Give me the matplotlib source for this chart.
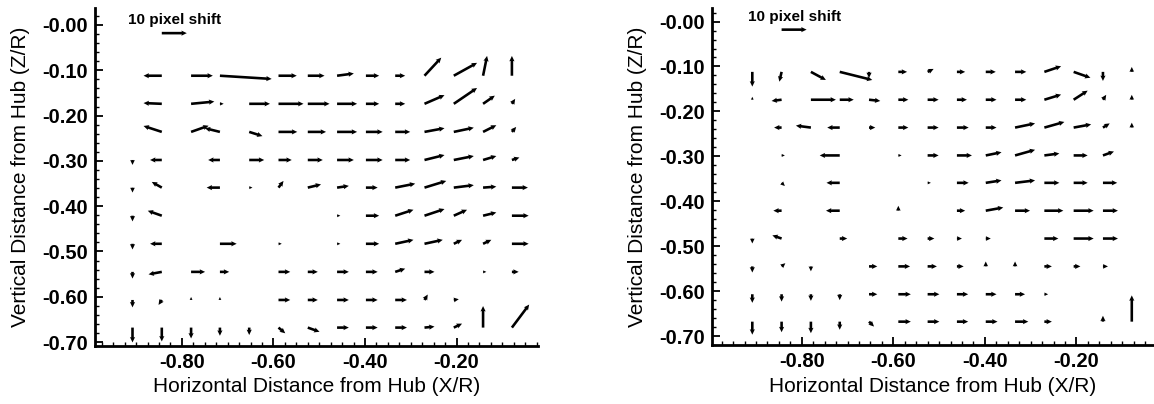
import numpy as np
import matplotlib
matplotlib.use('Agg')
import matplotlib.pyplot as plt
from matplotlib.ticker import MultipleLocator, FuncFormatter

plt.rcParams['font.family'] = ['Liberation Sans', 'DejaVu Sans']
plt.rcParams['axes.unicode_minus'] = False

# grid of measuring points (X/R columns, Z/R rows)
x_pos = [-0.908, -0.844, -0.780, -0.717, -0.653, -0.589, -0.525,
         -0.461, -0.398, -0.334, -0.270, -0.206, -0.142, -0.079]
z_pos = [-0.112, -0.174, -0.236, -0.298, -0.359,
         -0.421, -0.483, -0.545, -0.607, -0.668]
nan = np.nan

# pixel shifts, left panel (one row per Z, one value per X)
left_u = [
    [nan, -7.3, 8.7, 20.7, nan, 7.3, 6.7, 6.7, 5.3, 4.0, 6.7, 9.3, 1.6, 0],
    [nan, -7.3, 9.3, 1.5, 8.3, 10, 8.7, 8, 5.3, 4, 8, 9.3, 4.7, 1.3],
    [nan, -7.3, 7, -6, 5.3, 7.5, 7.3, 8, 6.7, 6, 8, 8, 5.3, 1.7],
    [0, -4.7, nan, -4.7, 6, 5.3, 6, 6.7, 6.7, 6, 8, 8, 5.3, 3],
    [0, -4, nan, -5.3, 1.3, 2, 5.3, 4.7, 4.7, 8, 8.7, 8, 5.3, 6.4],
    [0, -5.6, nan, nan, nan, nan, nan, 1.3, 5.3, 7.3, 8, 5.3, 5.3, 6.7],
    [0, -4.7, nan, 6.7, nan, 1.3, nan, 1.3, 5.3, 7.3, 7.3, 3.3, 3.3, 6.7],
    [0, -5.3, 5.6, 3.7, nan, 4.7, 4, 4.7, 4.7, 4, 4, nan, 1.3, 2.7],
    [0, -1.3, 0, 0, nan, 4.7, 4, 4.7, 4.7, 4.7, 1.3, 2, nan, nan],
    [0, 0, 0, 0, 0, 2.7, 4.7, 4.7, 4.7, 4.7, 4, 3.3, 0, 6.9],
]
left_v = [
    [nan, 0, 0, -1.3, nan, 0, 0, 0.9, 0, 0, 7.3, 5.2, 8.0, 8.0],
    [nan, 0.3, 0.9, 0, 0, 0, 0, 0, 0, 0, 3.5, 6.4, 3.3, 2],
    [nan, 2.4, 2.5, 1.5, -1.7, 0, 0, 0, 0, 0, 1.5, 1.7, 2.7, 2],
    [-2, 0, nan, 0, 0, 0, 0, 0, 0, 0, 2, 1.6, 1.6, 1],
    [-2, 2.3, nan, 0, 0, 2.7, 1.3, 0.7, 0, 1.6, 2.7, 1, 0.4, 0],
    [-2.3, 2, nan, nan, nan, nan, nan, 0, 0, 2.4, 2.7, 2.4, 1.3, 0],
    [-2.3, 0, nan, 0, nan, 0, nan, 0, 0, 1.6, 1.6, 1.6, 1.6, 0],
    [-2.7, -1, 0, 0, nan, 0, 0, 0, 0, 1.3, 0, nan, 0, 0],
    [-3, -2, 1.2, 1.2, nan, 0, 0, 0, 0, 0, 2.2, 0.3, nan, nan],
    [-6, -5.6, -4.4, -3.3, -3, -2.3, -1.7, 0, 0, 0, 0.4, 1.6, 8.7, 9.3],
]

# pixel shifts, right panel
right_u = [
    [0, -0.9, 6, 13, 0, 3.5, 2.4, 3.3, 4, 4.5, 6.7, 6.7, 0, 0],
    [0, -4, 10, 5.6, 4.5, 4, 4.4, 4, 4.3, 4.5, 6.7, 5.6, 1.3, 0],
    [nan, -3, -6, -5, 2.5, 4, 4.4, 4.7, 4.3, 8, 8, 7, 2.7, 0],
    [nan, 1.3, nan, -8, nan, 1.3, 4.4, 6, 6.3, 8, 6, 5.6, 4.4, nan],
    [nan, 1.3, nan, -5.3, nan, nan, 1.3, 4.7, 6.3, 8, 6, 5.6, 5.7, nan],
    [nan, -3.3, nan, -5.5, nan, 0, nan, 3.3, 7, 6, 7.6, 8, 6, nan],
    [0, -3.7, nan, 3, nan, 3.7, 2.7, 2, 2, nan, 5.6, 8, 6, nan],
    [0, 1.5, 0, nan, 3.3, 4.7, 3.7, 2.7, 0, 0, 3, 2.7, 2, nan],
    [0, 0, 0, 0, 3.3, 5, 4.7, 4.5, 4.3, 4, 1.5, nan, nan, nan],
    [0, 0, 0, 0, 2, 5, 4.7, 4.5, 4.7, 5.3, 3, nan, 0, 0],
]
right_v = [
    [-6, -4, -3.3, -3.3, -2.5, 0, 1.2, 0, 0, 0, 2.3, -2.4, -3.7, 2],
    [1.2, -0.5, 0, 0, -0.5, 0, 0, 0, 0, 0, 2.1, 3.7, 2, 2],
    [nan, 0, 0.8, 0, 0, 0, 0, 0, 0, 1.7, 2.3, 1.3, 1.7, 2],
    [nan, 0, nan, 0, nan, 0, 0, 0, 1.3, 2.3, 0.8, 0, 1.6, nan],
    [nan, -1.3, nan, 0, nan, nan, 0, 0, 1, 1, 0, 0, 0, nan],
    [nan, 0, nan, 0, nan, 2, nan, 0, 1.3, 0, 0, 0, 0, nan],
    [-2, 1.3, nan, 0, nan, 0, 0, 0, 0, nan, 0, 0, 0, nan],
    [-2.5, 1.3, -2, nan, 0, 0, 0, 0, 2, 2, 0, 0, 0, nan],
    [-3.5, -3, -2.7, -2.4, 0, 0, 0, 0, 0, 0, 0, nan, nan, nan],
    [-5.3, -4.3, -4.7, -3.3, -2, 0, 0, 0, 0, 0, 0, nan, 2.4, 10.7],
]

ref_shift = 10      # reference arrow, pixels
scale = 183.0       # pixel shift per X/R unit

fig = plt.figure(figsize=(11.54, 4.04), dpi=100)
ax1 = fig.add_axes([0.0823, 0.1436, 0.3839, 0.8366])
ax2 = fig.add_axes([0.617, 0.146, 0.382, 0.834])

X, Z = np.meshgrid(x_pos, z_pos)


def field(ax, u, v, xlim, ylim):
    q = ax.quiver(X, Z, np.array(u), np.array(v), pivot='tail',
                  angles='xy', scale_units='xy', scale=scale,
                  units='dots', width=2.6, headwidth=2.0, headlength=2.1,
                  headaxislength=1.9, minlength=0.8, color='black')
    ax.quiverkey(q, x_pos[1] + ref_shift / scale / 2, -0.018, ref_shift,
                 '10 pixel shift', coordinates='data', labelpos='N',
                 labelsep=0.06,
                 fontproperties={'size': 11, 'weight': 'bold'})
    ax.set_xlim(xlim)
    ax.set_ylim(ylim)
    ax.xaxis.set_major_locator(MultipleLocator(0.2))
    ax.xaxis.set_minor_locator(MultipleLocator(0.025))
    ax.yaxis.set_major_locator(MultipleLocator(0.1))
    ax.yaxis.set_minor_locator(MultipleLocator(0.02))
    ax.xaxis.set_major_formatter(FuncFormatter(lambda t, p: '%.2f' % t))
    ax.yaxis.set_major_formatter(FuncFormatter(lambda t, p: '-%.2f' % abs(t)))
    ax.tick_params(which='major', direction='in', length=6, width=1.3,
                   labelsize=14.5, pad=5)
    ax.tick_params(which='minor', direction='in', length=3, width=1)
    for lab in ax.get_xticklabels() + ax.get_yticklabels():
        lab.set_fontweight('bold')
    for s in ['top', 'right']:
        ax.spines[s].set_visible(False)
    for s in ['left', 'bottom']:
        ax.spines[s].set_linewidth(2)
    ax.set_xlabel('Horizontal Distance from Hub (X/R)', fontsize=15, labelpad=4)
    ax.set_ylabel('Vertical Distance from Hub (Z/R)', fontsize=15, labelpad=9)


field(ax1, left_u, left_v, (-0.990, -0.022), (-0.7086, 0.0375))
field(ax2, right_u, right_v, (-0.996, -0.033), (-0.720, 0.030))

fig.savefig('out.png', dpi=100)
